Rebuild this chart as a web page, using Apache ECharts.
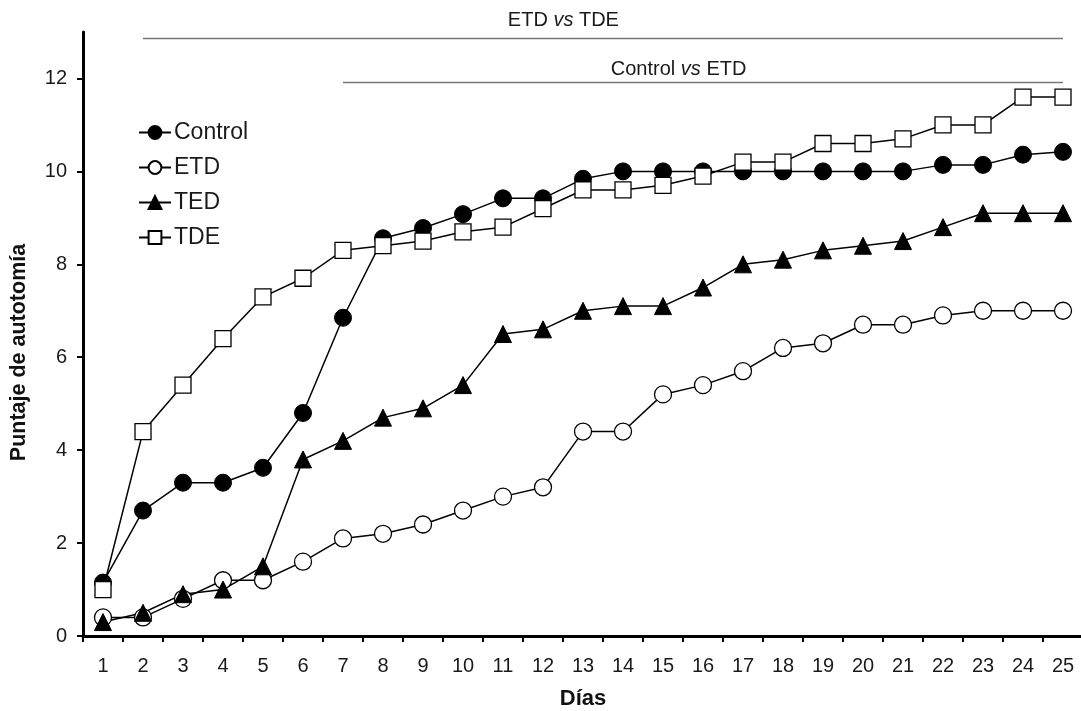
<!DOCTYPE html>
<html>
<head>
<meta charset="utf-8">
<script src="https://cdn.jsdelivr.net/npm/echarts@6/dist/echarts.min.js"></script>
<style>
  html, body { margin: 0; padding: 0; background: #fff; }
  #chart { width: 1081px; height: 711px; }
</style>
</head>
<body>
<div id="chart"></div>
<script>
// días del experimento
const days = ['1','2','3','4','5','6','7','8','9','10','11','12','13','14','15','16','17','18','19','20','21','22','23','24','25'];
const yTicks = [0, 2, 4, 6, 8, 10, 12];

// puntaje de autotomía por grupo
const controlValues = [1.15, 2.7, 3.3, 3.3, 3.62, 4.8, 6.85, 8.56, 8.78, 9.08, 9.42, 9.42, 9.84, 10.0, 10.0, 10.0, 10.0, 10.0, 10.0, 10.0, 10.0, 10.14, 10.14, 10.36, 10.42];
const etdValues = [0.4, 0.4, 0.8, 1.2, 1.2, 1.6, 2.1, 2.2, 2.4, 2.7, 3.0, 3.2, 4.4, 4.4, 5.2, 5.4, 5.7, 6.2, 6.3, 6.7, 6.7, 6.9, 7.0, 7.0, 7.0];
const tedValues = [0.3, 0.5, 0.9, 1.0, 1.5, 3.8, 4.2, 4.7, 4.9, 5.4, 6.5, 6.6, 7.0, 7.1, 7.1, 7.5, 8.0, 8.1, 8.3, 8.4, 8.5, 8.8, 9.1, 9.1, 9.1];
const tdeValues = [1.0, 4.4, 5.4, 6.4, 7.3, 7.7, 8.3, 8.4, 8.5, 8.7, 8.8, 9.2, 9.6, 9.6, 9.7, 9.9, 10.2, 10.2, 10.6, 10.6, 10.7, 11.0, 11.0, 11.6, 11.6];

// comparaciones significativas (desde, hasta, altura de la línea)
const brackets = [
  { a: 'ETD', b: 'TDE', from: '2', to: '25', y: 12.87, textDay: 12.51, textY: 13.24 },
  { a: 'Control', b: 'ETD', from: '7', to: '25', y: 11.91, textDay: 15.39, textY: 12.2 }
];

const chart = echarts.init(document.getElementById('chart'));
const font = 'Liberation Sans, Arial, sans-serif';

const lineBase = {
  type: 'line',
  symbolSize: 17,
  lineStyle: { color: '#000', width: 1.5 },
  emphasis: { disabled: true },
  animation: false
};

const option = {
  backgroundColor: '#fff',
  textStyle: { fontFamily: font },
  grid: { left: 83, top: 32, width: 1000, height: 604, outerBoundsMode: 'none', containLabel: false },
  legend: {
    orient: 'vertical',
    left: 133,
    top: 116,
    padding: 5,
    itemWidth: 32,
    itemHeight: 16,
    itemGap: 12,
    textStyle: { fontSize: 23, color: '#1a1a1a', padding: [0, 0, 0, -2] },
    data: ['Control', 'ETD', 'TED', 'TDE']
  },
  xAxis: {
    type: 'category',
    data: days,
    boundaryGap: true,
    name: 'Días',
    nameLocation: 'middle',
    nameGap: 52,
    nameTextStyle: { fontSize: 22, fontWeight: 'bold', color: '#111' },
    axisLine: { lineStyle: { color: '#000', width: 3 } },
    axisTick: { show: true, length: 6, lineStyle: { color: '#000', width: 2 } },
    axisLabel: { fontSize: 20, color: '#1a1a1a', margin: 20, interval: 0 },
    splitLine: { show: false }
  },
  yAxis: {
    type: 'value',
    min: 0,
    max: 13,
    interval: 2,
    name: 'Puntaje de autotomía',
    nameLocation: 'middle',
    nameGap: 53,
    nameTextStyle: { fontSize: 21.5, fontWeight: 'bold', color: '#111', padding: [0, 37, 0, 0] },
    axisLine: { show: true, lineStyle: { color: '#000', width: 3 } },
    axisTick: { show: true, length: 6, customValues: yTicks, lineStyle: { color: '#000', width: 2 } },
    axisLabel: { fontSize: 20, color: '#1a1a1a', margin: 16, customValues: yTicks },
    splitLine: { show: false }
  },
  series: [
    Object.assign({}, lineBase, {
      name: 'Control',
      data: controlValues,
      symbol: 'circle',
      itemStyle: { color: '#000', borderColor: '#000', borderWidth: 1 }
    }),
    Object.assign({}, lineBase, {
      name: 'ETD',
      data: etdValues,
      symbol: 'circle',
      itemStyle: { color: '#fff', borderColor: '#000', borderWidth: 1.3 }
    }),
    Object.assign({}, lineBase, {
      name: 'TED',
      data: tedValues,
      symbol: 'triangle',
      itemStyle: { color: '#000', borderColor: '#000', borderWidth: 1 }
    }),
    Object.assign({}, lineBase, {
      name: 'TDE',
      data: tdeValues,
      symbol: 'rect',
      symbolSize: 16,
      itemStyle: { color: '#fff', borderColor: '#000', borderWidth: 1.3 },
      markLine: {
        silent: true,
        symbol: 'none',
        animation: false,
        label: { show: false },
        lineStyle: { color: '#777', width: 1.3, type: 'solid' },
        data: brackets.map(b => [{ coord: [b.from, b.y] }, { coord: [b.to, b.y] }])
      }
    })
  ]
};

chart.setOption(option);

// textos de las comparaciones, ubicados con las escalas del gráfico
const bracketTexts = brackets.map(b => {
  const i = b.textDay - 1;
  const x0 = chart.convertToPixel({ xAxisIndex: 0 }, Math.floor(i));
  const x1 = chart.convertToPixel({ xAxisIndex: 0 }, Math.floor(i) + 1);
  const x = x0 + (x1 - x0) * (i - Math.floor(i));
  const y = chart.convertToPixel({ yAxisIndex: 0 }, b.textY);
  return {
    type: 'text',
    x: x,
    y: y,
    style: {
      text: '{n|' + b.a + ' }{i|vs}{n| ' + b.b + '}',
      align: 'center',
      verticalAlign: 'middle',
      rich: {
        n: { fontSize: 20, fontFamily: font, fill: '#1a1a1a' },
        i: { fontSize: 20, fontFamily: font, fontStyle: 'italic', fill: '#1a1a1a' }
      }
    }
  };
});
chart.setOption({ graphic: bracketTexts });
</script>
</body>
</html>
